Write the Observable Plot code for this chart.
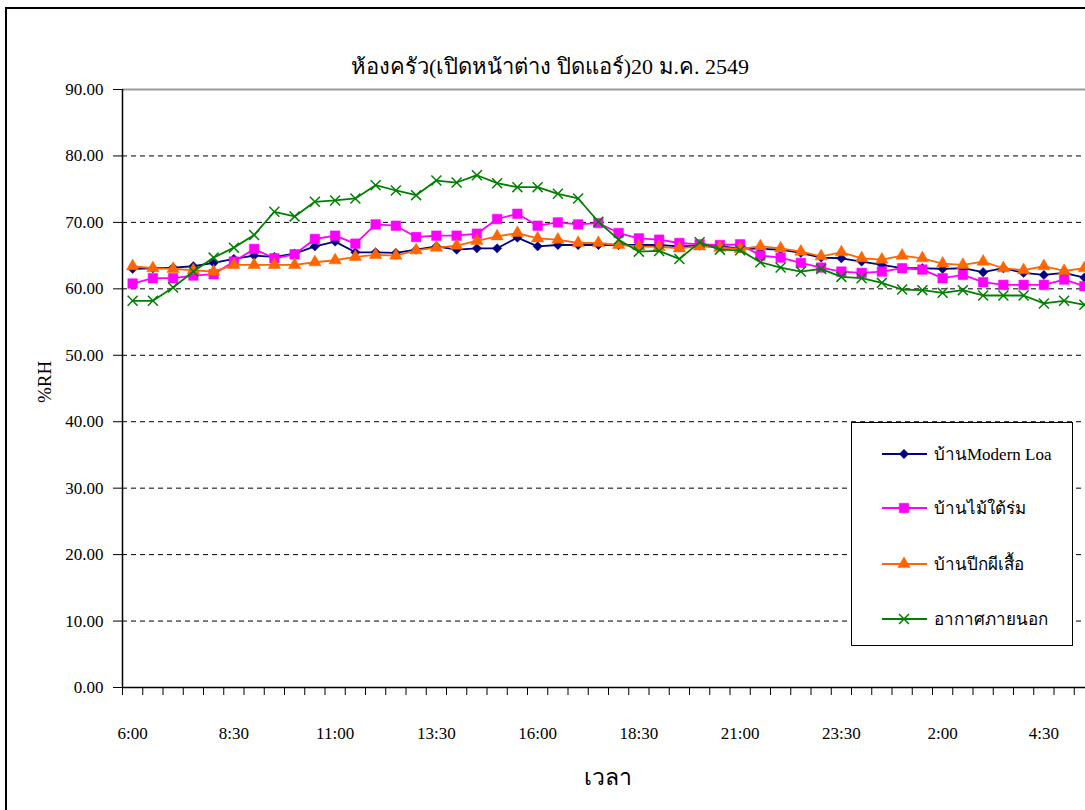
<!DOCTYPE html>
<html>
<head>
<meta charset="utf-8">
<script src="https://cdn.jsdelivr.net/npm/d3@7"></script>
<script src="https://cdn.jsdelivr.net/npm/@observablehq/plot@0.6"></script>
<style>
  html, body { margin: 0; padding: 0; background: #fff; overflow: hidden; }
  #wrap { position: relative; width: 1085px; height: 810px; overflow: hidden; font-family: "Liberation Serif", "Times New Roman", serif; color: #000; }
  #frame { position: absolute; left: 5px; top: 7px; width: 1200px; height: 900px; border: 2px solid #000; box-sizing: border-box; }
  #chart { position: absolute; left: 0; top: 0; width: 1100px; height: 810px; }
  #chart svg { max-width: none !important; width: 1100px; height: 810px; }
  .title { position: absolute; left: 0; width: 1100px; top: 52px; text-align: center; font-size: 22px; line-height: 30px; }
  .xlab { position: absolute; left: 508px; width: 200px; top: 762px; text-align: center; font-size: 23px; line-height: 32px; }
  .ylab { position: absolute; left: 45px; top: 382px; font-size: 19px; transform: translate(-50%, -50%) rotate(-90deg); white-space: nowrap; }
  #legend { position: absolute; left: 851px; top: 422px; width: 222px; height: 224px; border: 1px solid #000; box-sizing: border-box; background: #fff; }
</style>
</head>
<body>
<div id="wrap">
  <div id="frame"></div>
  <div id="chart"></div>
  <div class="title">ห้องครัว(เปิดหน้าต่าง ปิดแอร์)20 ม.ค. 2549</div>
  <div class="ylab">%RH</div>
  <div class="xlab">เวลา</div>
  <div id="legend"></div>
</div>
<script>
// Half-hourly readings, 6:00 through 5:30 the next morning
const times = ["6:00","6:30","7:00","7:30","8:00","8:30","9:00","9:30","10:00","10:30",
  "11:00","11:30","12:00","12:30","13:00","13:30","14:00","14:30","15:00","15:30",
  "16:00","16:30","17:00","17:30","18:00","18:30","19:00","19:30","20:00","20:30",
  "21:00","21:30","22:00","22:30","23:00","23:30","0:00","0:30","1:00","1:30",
  "2:00","2:30","3:00","3:30","4:00","4:30","5:00","5:30"];

// Relative humidity (%RH) per house
const modernLoa = [63.0,63.1,63.2,63.4,63.9,64.5,65.0,64.8,65.3,66.4,
  67.1,65.5,65.5,65.4,65.9,66.4,65.9,66.1,66.1,67.7,
  66.4,66.6,66.6,66.6,66.6,66.6,66.6,66.4,66.5,66.4,
  66.1,66.0,65.9,65.4,64.7,64.6,64.1,63.6,63.1,63.1,
  63.0,63.1,62.5,63.1,62.4,62.1,62.4,61.7];
const maiTaiRom = [60.8,61.6,61.6,62.0,62.2,64.1,66.0,64.6,65.2,67.5,
  68.0,66.8,69.7,69.5,67.8,68.0,68.0,68.3,70.5,71.3,
  69.5,70.0,69.7,69.9,68.4,67.6,67.4,66.9,66.7,66.6,
  66.7,65.0,64.7,63.9,63.2,62.6,62.4,62.6,63.1,62.9,
  61.6,62.1,61.0,60.6,60.6,60.6,61.4,60.4];
const peekPeeSuea = [63.4,63.1,63.0,62.8,62.6,63.6,63.6,63.6,63.6,64.0,
  64.3,64.8,65.1,65.0,65.8,66.2,66.5,67.2,67.9,68.4,
  67.6,67.4,66.9,66.9,66.6,66.4,66.3,66.1,66.4,66.2,
  66.0,66.4,66.1,65.6,64.9,65.5,64.6,64.4,65.0,64.6,
  63.8,63.6,64.1,63.1,62.8,63.4,62.7,63.1];
const outdoor = [58.2,58.2,60.2,62.6,64.7,66.2,68.1,71.6,70.9,73.1,
  73.3,73.6,75.6,74.8,74.1,76.3,76.0,77.1,75.9,75.3,
  75.3,74.3,73.6,70.1,67.4,65.6,65.7,64.5,67.0,65.9,
  65.8,64.0,63.2,62.6,63.0,61.8,61.6,60.9,59.9,59.8,
  59.4,59.8,59.0,59.0,59.0,57.8,58.2,57.6];

const seriesNames = ["บ้านModern Loa", "บ้านไม้ใต้ร่ม", "บ้านปีกผีเสื้อ", "อากาศภายนอก"];
const seriesValues = [modernLoa, maiTaiRom, peekPeeSuea, outdoor];
const seriesColors = ["#000080", "#FF00FF", "#FF6600", "#008000"];
const seriesSymbols = ["diamond2", "square", "triangle", "times"];
const seriesSizes = [4.2, 5.4, 4.6, 4.6];

const yTicks = [0, 10, 20, 30, 40, 50, 60, 70, 80, 90];
const labelEvery = 5;

const rowsFor = (k) => times.map((t, i) => ({ i, time: t, v: seriesValues[k][i], series: seriesNames[k] }));

const seriesMarks = seriesNames.flatMap((name, k) => {
  const rows = rowsFor(k);
  const hollow = seriesSymbols[k] === "times";
  return [
    Plot.line(rows, { x: "i", y: "v", stroke: seriesColors[k], strokeWidth: 1.8 }),
    Plot.dot(rows, {
      x: "i", y: "v", symbol: seriesSymbols[k], r: seriesSizes[k],
      fill: hollow ? "none" : seriesColors[k], stroke: seriesColors[k],
      strokeWidth: hollow ? 1.5 : 0.5
    })
  ];
});

const idx = times.map((t, i) => i);
const bandEdges = d3.range(-0.5, times.length, 1);
const labelled = idx.filter(i => i % labelEvery === 0);

const chart = Plot.plot({
  width: 1100,
  height: 810,
  marginLeft: 122,
  marginRight: 6,
  marginTop: 89,
  marginBottom: 123,
  style: { fontFamily: "'Liberation Serif', 'Times New Roman', serif", fontSize: "17px", background: "transparent", overflow: "visible", maxWidth: "none" },
  x: { domain: [-0.5, times.length - 0.5], axis: null },
  y: { domain: [0, 90], axis: null },
  marks: [
    // dashed gridlines, solid grey top edge
    Plot.ruleY(yTicks.filter(d => d > 0 && d < 90), { stroke: "#000", strokeWidth: 1, strokeDasharray: "5,4" }),
    Plot.ruleY([90], { stroke: "#9a9a9a", strokeWidth: 2 }),
    // axis lines
    Plot.ruleX([-0.5], { y1: 0, y2: 90, stroke: "#000", strokeWidth: 1.5 }),
    Plot.ruleY([0], { stroke: "#000", strokeWidth: 1.5 }),
    // y axis
    Plot.axisY(yTicks, { tickSize: 9, tickPadding: 10, tickFormat: d => d.toFixed(2), fontSize: 17, stroke: "#000", label: null }),
    // x axis: tick marks between categories, labels at every fifth category
    Plot.axisX(bandEdges, { tickSize: 8, tickFormat: () => "", stroke: "#000", label: null }),
    Plot.axisX(labelled, { tickSize: 0, tickPadding: 39, tickFormat: i => times[i], fontSize: 17, label: null }),
    ...seriesMarks
  ]
});
document.getElementById("chart").appendChild(chart);

// Legend
const lg = d3.select("#legend").append("svg").attr("width", 220).attr("height", 222)
  .style("font-family", "'Liberation Serif', 'Times New Roman', serif");
const rowY = [31, 85, 141, 196];
const symMap = { diamond2: d3.symbolDiamond2, square: d3.symbolSquare, triangle: d3.symbolTriangle, times: d3.symbolTimes };
seriesNames.forEach((name, k) => {
  const g = lg.append("g").attr("transform", `translate(0,${rowY[k]})`);
  g.append("line").attr("x1", 30).attr("x2", 75).attr("y1", 0).attr("y2", 0)
    .attr("stroke", seriesColors[k]).attr("stroke-width", 1.8);
  const hollow = seriesSymbols[k] === "times";
  g.append("path").attr("transform", "translate(52,0)")
    .attr("d", d3.symbol(symMap[seriesSymbols[k]], Math.PI * seriesSizes[k] * seriesSizes[k])())
    .attr("fill", hollow ? "none" : seriesColors[k]).attr("stroke", seriesColors[k])
    .attr("stroke-width", hollow ? 1.5 : 0.5);
  g.append("text").attr("x", 82).attr("y", 0).attr("dy", "0.35em").attr("font-size", 17).text(name);
});
</script>
</body>
</html>
